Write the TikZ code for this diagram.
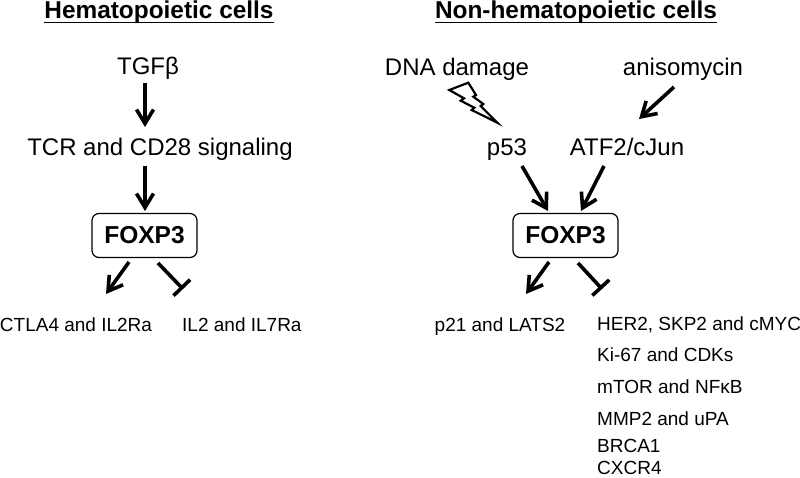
\documentclass[tikz,border=0pt]{standalone}
\usepackage{fontspec}
\setmainfont{Liberation Sans}
\usetikzlibrary{arrows.meta}
\tikzset{
  big/.style={inner sep=0pt, anchor=base, font=\fontsize{24}{28}\selectfont},
  small/.style={inner sep=0pt, anchor=base, font=\fontsize{19}{23}\selectfont},
  smallw/.style={small, anchor=base west},
  ttl/.style={inner sep=0pt, anchor=base, font=\bfseries\fontsize{24.4}{28}\selectfont},
  ul/.style={line width=1.8pt},
  fbox/.style={draw, rounded corners=7pt, line width=1.2pt, minimum width=105pt, minimum height=44pt, inner sep=0pt, font=\bfseries\fontsize{24.5}{28}\selectfont},
  act/.style={line width=3.6pt, -{Straight Barb[length=14pt,width=17pt]}},
  inh/.style={line width=3.6pt, -{Bar[width=23pt]}},
  bolt/.style={draw, line width=2.2pt, fill=white, line join=miter},
}
\begin{document}
\begin{tikzpicture}[x=1pt,y=-1pt]
\useasboundingbox (0,0) rectangle (800,477);
% titles
\node[ttl] (t1) at (159,18.5) {Hematopoietic cells};
\node[ttl] (t2) at (576,18.5) {Non-hematopoietic cells};
\draw[ul] ([yshift=-4pt]t1.base west) -- ([yshift=-4pt]t1.base east);
\draw[ul] ([yshift=-4pt]t2.base west) -- ([yshift=-4pt]t2.base east);
% left column
\node[big] (tgf) at (148,74) {TGFβ};
\node[big] (tcr) at (160,155) {TCR and CD28 signaling};
\node[fbox] (f1) at (144.5,235.5) {FOXP3};
\node[small] (ctla) at (76,331) {CTLA4 and IL2Ra};
\node[smallw] (il2) at (182,331) {IL2 and IL7Ra};
\coordinate (a1s) at (145,83);  \coordinate (a1e) at (145,127);
\coordinate (a2s) at (145,166); \coordinate (a2e) at (145,211);
\coordinate (a3s) at (129,262); \coordinate (a3e) at (106,294);
\coordinate (i1s) at (158,263); \coordinate (i1e) at (183,289);
\draw[act] (a1s) -- (a1e);
\draw[act] (a2s) -- (a2e);
\draw[act] (a3s) -- (a3e);
\draw[inh] (i1s) -- (i1e);
% right column
\node[big] (dna) at (457,75) {DNA damage};
\node[big] (aniso) at (683,75) {anisomycin};
\node[big] (p53) at (507,155) {p53};
\node[big] (atf) at (627,155) {ATF2/cJun};
\node[fbox] (f2) at (565.5,235.5) {FOXP3};
\node[small] (p21) at (500,331) {p21 and LATS2};
\node[smallw] (her) at (597,330) {HER2, SKP2 and cMYC};
\node[smallw] (ki) at (597,361) {Ki-67 and CDKs};
\node[smallw] (mtor) at (597,393) {mTOR and NFκB};
\node[smallw] (mmp) at (597,425) {MMP2 and uPA};
\node[smallw] (brca) at (597,452) {BRCA1};
\node[smallw] (cxcr) at (597,474) {CXCR4};
\draw[bolt] (449.3,90) -- (468.3,82.7) -- (476,95) -- (473.3,96.7) -- (483.3,104) -- (480.7,106) -- (497.3,122.7) -- (471.7,110) -- (474.3,107.7) -- (460.7,100.7) -- (464,98.3) -- cycle;
\coordinate (b1s) at (674,87);  \coordinate (b1e) at (639,119);
\coordinate (b2s) at (522,166); \coordinate (b2e) at (548,211);
\coordinate (b3s) at (604,166); \coordinate (b3e) at (581,211);
\coordinate (b4s) at (549,262); \coordinate (b4e) at (526,294);
\coordinate (i2s) at (578,263); \coordinate (i2e) at (602,289);
\draw[act] (b1s) -- (b1e);
\draw[act] (b2s) -- (b2e);
\draw[act] (b3s) -- (b3e);
\draw[act] (b4s) -- (b4e);
\draw[inh] (i2s) -- (i2e);
\end{tikzpicture}
\end{document}
